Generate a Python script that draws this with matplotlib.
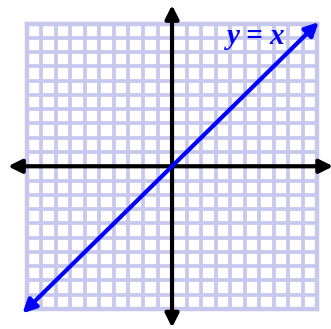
import numpy as np
import matplotlib.pyplot as plt

# grid range and the line y = x
grid_min, grid_max = -10, 10
line_x = [-10.3, 10.1]
line_y = [-10.3, 10.1]
axis_ends = [-11.3, 11.1]
label = "y = x"

fig = plt.figure(figsize=(3.31, 3.29), dpi=100)
ax = fig.add_axes([0, 0, 1, 1])
ax.set_xlim(-11.85, 10.95)
ax.set_ylim(-11.4, 11.65)
ax.axis('off')

grid_col = '#c8c8ef'
ticks = np.arange(grid_min, grid_max + 1)
for t in ticks:
    lw = 3.2 if t in (grid_min, grid_max) else 2.7
    ax.plot([t, t], [grid_min, grid_max], color=grid_col, lw=lw, zorder=1,
            solid_capstyle='projecting')
    ax.plot([grid_min, grid_max], [t, t], color=grid_col, lw=lw, zorder=1,
            solid_capstyle='projecting')

# axes with arrowheads on both ends
arrow = dict(arrowstyle='<|-|>', color='black', lw=3, mutation_scale=20,
             shrinkA=0, shrinkB=0)
ax.annotate('', xy=(axis_ends[1], 0), xytext=(axis_ends[0], 0),
            arrowprops=arrow, zorder=3, annotation_clip=False)
ax.annotate('', xy=(0, axis_ends[1] + 0.2), xytext=(0, axis_ends[0]),
            arrowprops=arrow, zorder=3, annotation_clip=False)

# the line y = x
blue_arrow = dict(arrowstyle='<|-|>', color='#0000ff', lw=3, mutation_scale=20,
                  shrinkA=0, shrinkB=0)
ax.annotate('', xy=(line_x[1], line_y[1]), xytext=(line_x[0], line_y[0]),
            arrowprops=blue_arrow, zorder=4, annotation_clip=False)

ax.text(5.8, 9.1, label, color='#0000ff', fontsize=21, fontweight='bold',
        fontstyle='italic', family='Liberation Serif', ha='center', va='center',
        zorder=5)

fig.savefig('out.png', dpi=100)
